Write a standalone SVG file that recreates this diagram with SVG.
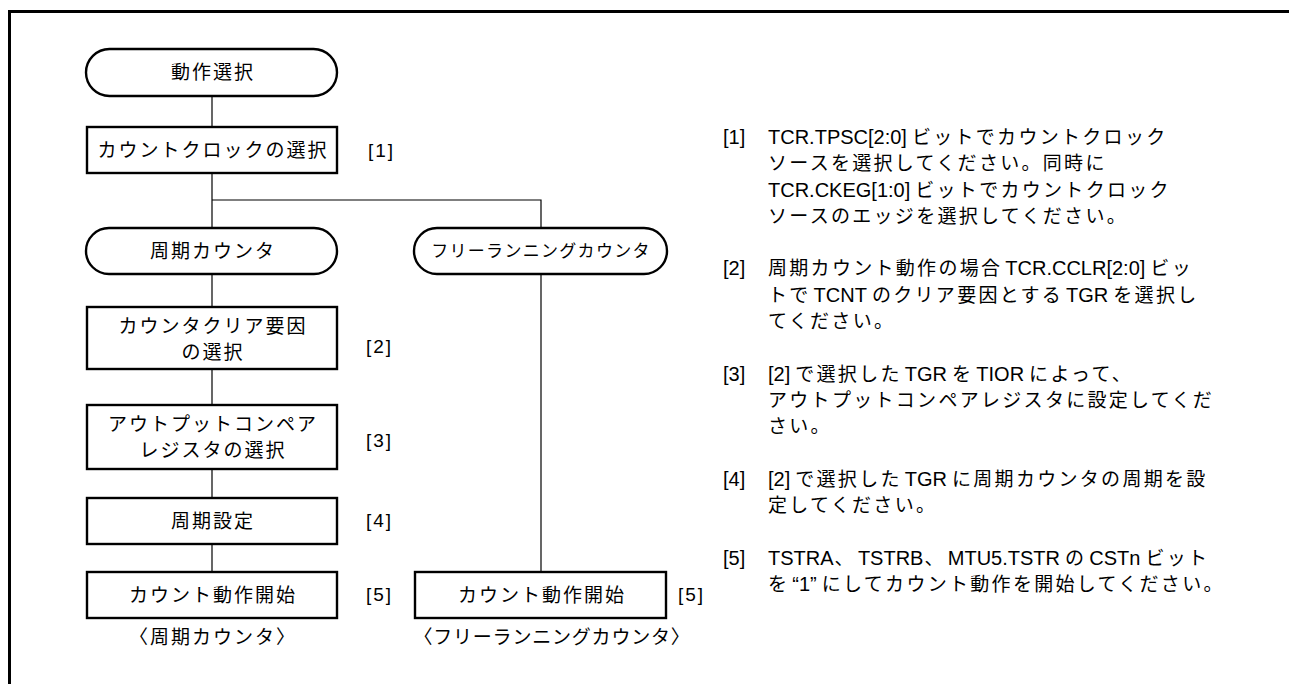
<svg xmlns="http://www.w3.org/2000/svg" width="1289" height="684" viewBox="0 0 1289 684">
<style>
.frame{fill:none;stroke:#000;stroke-width:3}
.shape{fill:#fff;stroke:#000;stroke-width:2.4}
.conn{fill:none;stroke:#000;stroke-width:1.2}
text{font-family:"Liberation Sans","Noto Sans CJK JP",sans-serif;fill:#000}
.lbl{font-size:19px;letter-spacing:2px;text-anchor:middle}
.lbls{font-size:17px;letter-spacing:1.3px;text-anchor:middle}
.num{font-size:19px;letter-spacing:2px}
.note{font-size:20px}
.j{font-size:19px;letter-spacing:2.3px}
.cap{font-size:19px;letter-spacing:2px;text-anchor:middle}
.capw{font-size:19px;letter-spacing:0.8px;text-anchor:middle}
</style>
<rect width="1289" height="684" fill="#fff"/>
<path class="frame" d="M9.5,684 V11.5 H1289"/>
<g id="connectors">
<path class="conn" d="M212,96 V127"/>
<path class="conn" d="M212,173 V228"/>
<path class="conn" d="M212,200 H541 V228"/>
<path class="conn" d="M212,274 V307"/>
<path class="conn" d="M212,369 V405"/>
<path class="conn" d="M212,469 V498"/>
<path class="conn" d="M212,544 V572"/>
<path class="conn" d="M541,274 V572"/>
</g>
<g id="start">
<rect class="shape" x="86" y="49" width="251" height="47" rx="23.5"/>
<text class="lbl" x="213" y="79">動作選択</text>
</g>
<g id="step1">
<rect class="shape" x="87" y="127" width="250" height="46"/>
<text class="lbl" x="213" y="157">カウントクロックの選択</text>
<text class="num" x="368" y="157">[1]</text>
</g>
<g id="periodic">
<rect class="shape" x="86" y="228" width="251" height="46" rx="23"/>
<text class="lbl" x="213" y="258">周期カウンタ</text>
</g>
<g id="freerun">
<rect class="shape" x="414" y="228" width="253" height="46" rx="23"/>
<text class="lbls" x="541" y="257">フリーランニングカウンタ</text>
</g>
<g id="step2">
<rect class="shape" x="87" y="307" width="250" height="62"/>
<text class="lbl" x="213" y="333">カウンタクリア要因</text>
<text class="lbl" x="213" y="359">の選択</text>
<text class="num" x="366" y="353">[2]</text>
</g>
<g id="step3">
<rect class="shape" x="87" y="405" width="250" height="64"/>
<text class="lbl" x="213" y="431">アウトプットコンペア</text>
<text class="lbl" x="213" y="457">レジスタの選択</text>
<text class="num" x="366" y="447">[3]</text>
</g>
<g id="step4">
<rect class="shape" x="87" y="498" width="250" height="46"/>
<text class="lbl" x="213" y="528">周期設定</text>
<text class="num" x="366" y="527">[4]</text>
</g>
<g id="step5a">
<rect class="shape" x="87" y="572" width="250" height="46"/>
<text class="lbl" x="213" y="602">カウント動作開始</text>
<text class="num" x="366" y="601">[5]</text>
<text class="cap" x="213" y="644">〈周期カウンタ〉</text>
</g>
<g id="step5b">
<rect class="shape" x="415" y="572" width="251" height="46"/>
<text class="lbl" x="542" y="602">カウント動作開始</text>
<text class="num" x="678" y="601">[5]</text>
<text class="capw" x="552" y="644">〈フリーランニングカウンタ〉</text>
</g>
<g id="notes">
<text class="note" x="723" y="144">[1]</text>
<text class="note" x="768" y="144">TCR.TPSC[2:0]<tspan class="j" dx="5">ビットでカウントクロック</tspan></text>
<text class="note" x="768" y="170"><tspan class="j">ソースを選択してください。同時に</tspan></text>
<text class="note" x="768" y="197">TCR.CKEG[1:0]<tspan class="j" dx="5">ビットでカウントクロック</tspan></text>
<text class="note" x="768" y="223"><tspan class="j">ソースのエッジを選択してください。</tspan></text>
<text class="note" x="723" y="275">[2]</text>
<text class="note" x="768" y="275"><tspan class="j">周期カウント動作の場合</tspan><tspan dx="3">TCR.CCLR[2:0]</tspan><tspan class="j" dx="5">ビッ</tspan></text>
<text class="note" x="768" y="302"><tspan class="j">トで</tspan><tspan dx="3">TCNT</tspan><tspan class="j" dx="5">のクリア要因とする</tspan><tspan dx="3">TGR</tspan><tspan class="j" dx="5">を選択し</tspan></text>
<text class="note" x="768" y="328"><tspan class="j">てください。</tspan></text>
<text class="note" x="723" y="381">[3]</text>
<text class="note" x="768" y="381">[2]<tspan class="j" dx="5">で選択した</tspan><tspan dx="3">TGR</tspan><tspan class="j" dx="5">を</tspan><tspan dx="3">TIOR</tspan><tspan class="j" dx="5">によって、</tspan></text>
<text class="note" x="768" y="407"><tspan class="j">アウトプットコンペアレジスタに設定してくだ</tspan></text>
<text class="note" x="768" y="433"><tspan class="j">さい。</tspan></text>
<text class="note" x="723" y="486">[4]</text>
<text class="note" x="768" y="486">[2]<tspan class="j" dx="5">で選択した</tspan><tspan dx="3">TGR</tspan><tspan class="j" dx="5">に周期カウンタの周期を設</tspan></text>
<text class="note" x="768" y="512"><tspan class="j">定してください。</tspan></text>
<text class="note" x="723" y="565">[5]</text>
<text class="note" x="768" y="565">TSTRA<tspan class="j" dx="1">、</tspan><tspan dx="2">TSTRB</tspan><tspan class="j" dx="1">、</tspan><tspan dx="2">MTU5.TSTR</tspan><tspan class="j" dx="5">の</tspan><tspan dx="3">CSTn</tspan><tspan class="j" dx="5">ビット</tspan></text>
<text class="note" x="768" y="591"><tspan class="j">を</tspan><tspan dx="3">“1”</tspan><tspan class="j" dx="5">にしてカウント動作を開始してください。</tspan></text>
</g>
</svg>
